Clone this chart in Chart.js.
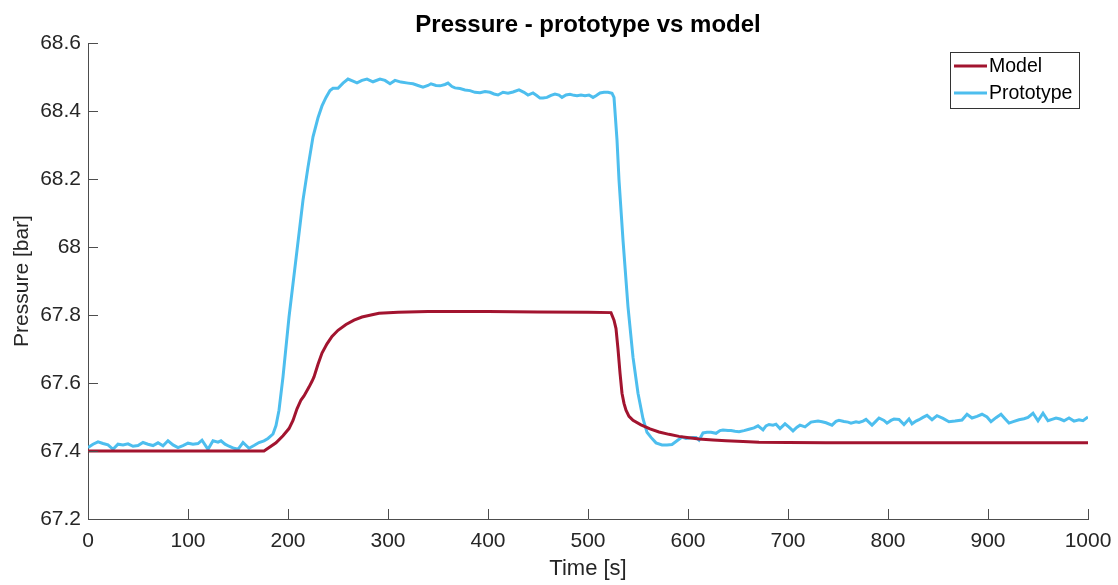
<!DOCTYPE html>
<html>
<head>
<meta charset="utf-8">
<title>Pressure - prototype vs model</title>
<script src="https://cdn.jsdelivr.net/npm/chart.js@4"></script>
<style>
  html, body { margin: 0; padding: 0; background: #fff; }
  #wrap { width: 1118px; height: 585px; }
</style>
</head>
<body>
<div id="wrap"><canvas id="pressureChart"></canvas></div>
<script>
// Values
const modelTime = [0, 100, 176, 188, 195, 201, 205, 209, 213, 216, 221, 224, 226, 230, 234, 239, 244, 250, 258, 266, 274, 283, 291, 310, 340, 400, 450, 500, 523, 526, 528, 530, 532, 534, 536, 538, 541, 545, 553, 562, 571, 581, 591, 601, 611, 625, 638, 655, 671, 700, 738, 800, 900, 1000];
const modelPressure = [67.4, 67.4, 67.4, 67.424, 67.445, 67.466, 67.49, 67.524, 67.55, 67.562, 67.588, 67.605, 67.618, 67.655, 67.688, 67.715, 67.737, 67.755, 67.772, 67.785, 67.794, 67.8, 67.805, 67.808, 67.81, 67.81, 67.809, 67.808, 67.807, 67.785, 67.76, 67.7, 67.63, 67.57, 67.54, 67.52, 67.502, 67.49, 67.477, 67.465, 67.456, 67.449, 67.443, 67.439, 67.435, 67.432, 67.43, 67.428, 67.426, 67.425, 67.424, 67.424, 67.424, 67.424];

const protoTime = [0, 5, 10, 15, 20, 25, 30, 35, 40, 45, 50, 55, 60, 65, 70, 75, 80, 85, 90, 95, 100, 105, 110, 114, 120, 125, 130, 133, 137, 141, 146, 150, 155, 161, 166, 171, 176, 180, 185, 188, 191, 195, 201, 209, 215, 220, 225, 230, 234, 238, 242, 245, 250, 255, 260, 265, 269, 274, 279, 285, 292, 297, 302, 307, 313, 320, 325, 330, 335, 340, 343, 348, 352, 357, 360, 364, 367, 372, 377, 382, 387, 392, 397, 402, 406, 410, 415, 420, 425, 431, 436, 440, 445, 449, 452, 455, 459, 463, 467, 471, 474, 478, 482, 486, 489, 493, 497, 501, 505, 508, 512, 516, 520, 524, 526, 529, 531, 535, 540, 545, 550, 555, 559, 563, 568, 574, 579, 584, 589, 594, 598, 601, 605, 608, 611, 615, 619, 623, 628, 632, 635, 640, 643, 647, 651, 656, 661, 666, 670, 675, 678, 681, 685, 688, 692, 697, 701, 705, 709, 712, 717, 723, 730, 734, 738, 744, 748, 751, 756, 760, 763, 768, 771, 775, 778, 784, 788, 791, 796, 799, 803, 806, 811, 816, 821, 824, 828, 831, 835, 839, 844, 849, 855, 861, 867, 874, 879, 884, 889, 894, 899, 903, 908, 913, 917, 921, 926, 931, 936, 940, 945, 950, 955, 960, 964, 968, 972, 976, 981, 986, 991, 995, 1000];
const protoPressure = [67.41, 67.42, 67.427, 67.422, 67.418, 67.405, 67.42, 67.418, 67.421, 67.414, 67.416, 67.425, 67.42, 67.416, 67.424, 67.415, 67.43, 67.418, 67.41, 67.416, 67.423, 67.42, 67.422, 67.432, 67.405, 67.43, 67.426, 67.43, 67.42, 67.414, 67.408, 67.405, 67.425, 67.408, 67.416, 67.425, 67.43, 67.437, 67.45, 67.475, 67.52, 67.618, 67.794, 67.99, 68.138, 68.235, 68.324, 68.38, 68.415, 68.44, 68.46, 68.467, 68.467, 68.482, 68.494, 68.488, 68.483, 68.49, 68.494, 68.486, 68.494, 68.49, 68.48, 68.49, 68.485, 68.482, 68.48, 68.475, 68.47, 68.475, 68.48, 68.475, 68.474, 68.478, 68.482, 68.472, 68.468, 68.466, 68.462, 68.46, 68.455, 68.454, 68.457, 68.455, 68.45, 68.447, 68.455, 68.452, 68.456, 68.462, 68.455, 68.447, 68.453, 68.445, 68.438, 68.438, 68.44, 68.446, 68.45, 68.447, 68.44, 68.447, 68.449, 68.446, 68.445, 68.447, 68.445, 68.447, 68.44, 68.445, 68.453, 68.455, 68.455, 68.452, 68.44, 68.315, 68.197, 68.02, 67.824, 67.676, 67.57, 67.495, 67.455, 67.44, 67.424, 67.418, 67.418, 67.419, 67.43, 67.441, 67.437, 67.438, 67.44, 67.44, 67.432, 67.453, 67.455, 67.455, 67.452, 67.46, 67.462, 67.46, 67.46, 67.458, 67.457, 67.46, 67.464, 67.468, 67.474, 67.462, 67.474, 67.478, 67.476, 67.479, 67.466, 67.48, 67.47, 67.459, 67.47, 67.476, 67.471, 67.485, 67.488, 67.486, 67.483, 67.476, 67.487, 67.49, 67.487, 67.485, 67.482, 67.486, 67.484, 67.488, 67.493, 67.476, 67.488, 67.497, 67.49, 67.482, 67.49, 67.494, 67.493, 67.478, 67.494, 67.48, 67.488, 67.492, 67.499, 67.505, 67.492, 67.504, 67.496, 67.486, 67.488, 67.491, 67.508, 67.497, 67.502, 67.508, 67.5, 67.486, 67.498, 67.508, 67.495, 67.482, 67.487, 67.492, 67.495, 67.499, 67.511, 67.489, 67.511, 67.489, 67.493, 67.497, 67.494, 67.489, 67.497, 67.488, 67.492, 67.489, 67.5];

const seriesNames = ['Model', 'Prototype'];
const seriesColors = ['#A2142F', '#4DBEEE'];
const chartTitle = 'Pressure - prototype vs model';

const FONT = '"Liberation Sans", Arial, Helvetica, sans-serif';
const AXIS_COLOR = '#4d4d4d';
const TEXT_COLOR = '#262626';

function toPoints(xs, ys) {
  return xs.map((x, i) => ({x: x, y: ys[i]}));
}

// MATLAB style tick marks pointing into the plot area
const inwardTicks = {
  id: 'inwardTicks',
  afterDatasetsDraw(chart) {
    const ctx = chart.ctx;
    const area = chart.chartArea;
    const xs = chart.scales.x, ys = chart.scales.y;
    const len = 10;
    ctx.save();
    ctx.strokeStyle = AXIS_COLOR;
    ctx.lineWidth = 1;
    ctx.beginPath();
    xs.ticks.forEach(t => {
      const px = Math.round(xs.getPixelForValue(t.value)) + 0.5;
      ctx.moveTo(px, area.bottom);
      ctx.lineTo(px, area.bottom - len);
    });
    ys.ticks.forEach(t => {
      const py = Math.round(ys.getPixelForValue(t.value)) + 0.5;
      ctx.moveTo(area.left, py);
      ctx.lineTo(area.left + len, py);
    });
    ctx.stroke();
    ctx.restore();
  }
};

// Title centred over the axes (not the whole canvas), like MATLAB
const axesTitle = {
  id: 'axesTitle',
  afterDraw(chart) {
    const ctx = chart.ctx;
    const area = chart.chartArea;
    ctx.save();
    ctx.font = 'bold 24px ' + FONT;
    ctx.fillStyle = '#000';
    ctx.textAlign = 'center';
    ctx.textBaseline = 'alphabetic';
    ctx.fillText(chartTitle, (area.left + area.right) / 2, area.top - 11);
    ctx.restore();
  }
};

// Boxed legend in the top right corner
const boxLegend = {
  id: 'boxLegend',
  afterDraw(chart) {
    const ctx = chart.ctx;
    const area = chart.chartArea;
    const x0 = area.right - 138, y0 = area.top + 9;
    const w = 129, h = 56;
    ctx.save();
    ctx.fillStyle = '#fff';
    ctx.fillRect(x0, y0, w, h);
    ctx.strokeStyle = '#333';
    ctx.lineWidth = 1;
    ctx.strokeRect(x0 + 0.5, y0 + 0.5, w, h);
    ctx.font = '19.5px ' + FONT;
    ctx.textBaseline = 'middle';
    seriesNames.forEach((name, i) => {
      const cy = y0 + 14 + i * 27;
      ctx.strokeStyle = seriesColors[i];
      ctx.lineWidth = 3;
      ctx.beginPath();
      ctx.moveTo(x0 + 4, cy);
      ctx.lineTo(x0 + 37, cy);
      ctx.stroke();
      ctx.fillStyle = '#000';
      ctx.fillText(name, x0 + 39, cy + 1);
    });
    ctx.restore();
  }
};

const ctx = document.getElementById('pressureChart').getContext('2d');
new Chart(ctx, {
  type: 'line',
  data: {
    datasets: [
      {
        label: seriesNames[0],
        data: toPoints(modelTime, modelPressure),
        borderColor: seriesColors[0],
        borderWidth: 3,
        pointRadius: 0,
        tension: 0
      },
      {
        label: seriesNames[1],
        data: toPoints(protoTime, protoPressure),
        borderColor: seriesColors[1],
        borderWidth: 3,
        pointRadius: 0,
        tension: 0
      }
    ]
  },
  plugins: [inwardTicks, axesTitle, boxLegend],
  options: {
    responsive: true,
    maintainAspectRatio: false,
    animation: false,
    events: [],
    layout: { padding: { left: 0, right: 30, top: 43, bottom: 0 } },
    plugins: {
      legend: { display: false },
      tooltip: { enabled: false },
      title: { display: false }
    },
    scales: {
      x: {
        type: 'linear',
        min: 0,
        max: 1000,
        ticks: { stepSize: 100, color: TEXT_COLOR, padding: 10, maxRotation: 0,
                 font: { family: FONT, size: 21 },
                 callback: v => String(v) },
        grid: { display: true, drawOnChartArea: false, drawTicks: false },
        border: { display: true, color: AXIS_COLOR, width: 1 },
        title: { display: true, text: 'Time [s]', color: TEXT_COLOR,
                 font: { family: FONT, size: 22 }, padding: { top: 0, bottom: 3 } },
        afterFit(scale) {
          scale.height = 66;
          scale.paddingLeft = 0;
          scale.paddingRight = 0;
        }
      },
      y: {
        min: 67.2,
        max: 68.6,
        ticks: { stepSize: 0.2, color: TEXT_COLOR, padding: 7,
                 font: { family: FONT, size: 21 },
                 callback: v => String(+v.toFixed(1)) },
        grid: { display: true, drawOnChartArea: false, drawTicks: false },
        border: { display: true, color: AXIS_COLOR, width: 1 },
        title: { display: true, text: 'Pressure [bar]', color: TEXT_COLOR,
                 font: { family: FONT, size: 21 }, padding: { top: 10, bottom: 0 } },
        afterFit(scale) {
          scale.width = 88;
          scale.paddingTop = 0;
          scale.paddingBottom = 0;
        }
      }
    }
  }
});
</script>
</body>
</html>
